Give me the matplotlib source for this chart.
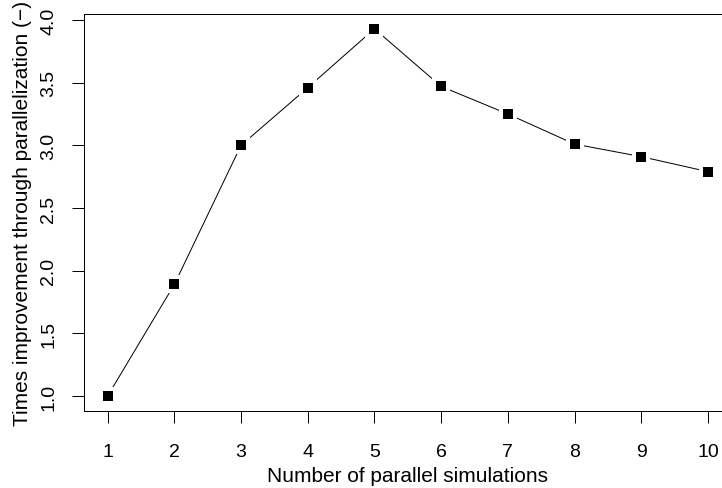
import matplotlib
matplotlib.use("Agg")
import matplotlib.pyplot as plt
import numpy as np

# Data
n_parallel = [1, 2, 3, 4, 5, 6, 7, 8, 9, 10]
times_improvement = [1.00, 1.89, 3.00, 3.46, 3.93, 3.47, 3.25, 3.01, 2.91, 2.79]
x_ticks = [1, 2, 3, 4, 5, 6, 7, 8, 9, 10]
y_ticks = [1.0, 1.5, 2.0, 2.5, 3.0, 3.5, 4.0]
x_label = "Number of parallel simulations"
y_label = "Times improvement through parallelization (\u2212)"

plt.rcParams['font.family'] = ['Liberation Sans', 'DejaVu Sans']
DPI = 100
W, H = 722, 489
PX = 72.0 / DPI  # points per pixel

fig = plt.figure(figsize=(W / DPI, H / DPI), dpi=DPI)
left, right, top, bottom = 83.6, 732.0, 15.1, 411.7
ax = fig.add_axes([left / W, (H - bottom) / H, (right - left) / W, (bottom - top) / H])

ax.plot(n_parallel, times_improvement, color='black', lw=1.0 * PX, zorder=2)
ax.plot(n_parallel, times_improvement, ls='none', marker='s',
        markersize=14 * PX, markerfacecolor='black', markeredgecolor='white',
        markeredgewidth=4 * PX, zorder=3)

# R-style 4% axis extension
xr = max(n_parallel) - min(n_parallel)
yr = max(times_improvement) - min(times_improvement)
ax.set_xlim(min(n_parallel) - 0.04 * xr, max(n_parallel) + 0.04 * xr)
ax.set_ylim(min(times_improvement) - 0.04 * yr, max(times_improvement) + 0.04 * yr)

ax.set_xticks(x_ticks)
ax.set_xticklabels([str(v) for v in x_ticks])
ax.set_yticks(y_ticks)
ax.set_yticklabels([f"{v:.1f}" for v in y_ticks], rotation=90, va='center')

fs_lab = 15
fs_tick = 14
ax.tick_params(axis='both', direction='out', length=12 * PX, width=1.0 * PX,
               color='black', labelsize=fs_tick, labelcolor='black')
ax.tick_params(axis='x', pad=20 * PX)
ax.tick_params(axis='y', pad=14.5 * PX)

for s in ax.spines.values():
    s.set_linewidth(1.0 * PX)
    s.set_color('black')

ax.set_xlabel(x_label, fontsize=fs_lab)
ax.set_ylabel(y_label, fontsize=fs_lab)
axh = bottom - top
axw = right - left
ax.xaxis.set_label_coords(0.5, -(467 - bottom) / axh)
ax.yaxis.set_label_coords(-(left - 32.4) / axw, 0.5)

fig.savefig("out.png", dpi=DPI)
